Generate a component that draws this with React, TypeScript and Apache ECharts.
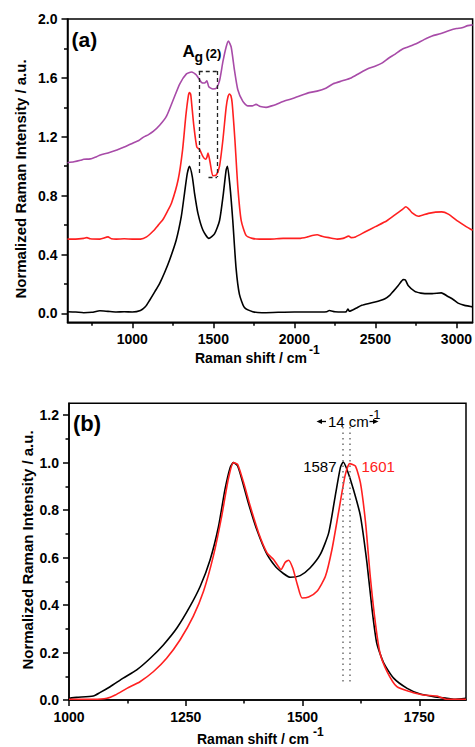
import React, { useEffect, useRef } from "react";
import * as echarts from "echarts";

// ---------- Panel (a) data ----------
const xA_black = [600,650,700,750,800,850,900,950,1000,1050,1080,1107,1140,1169,1200,1230,1271,1302,1322,1339,1353,1370,1384,1405,1436,1472,1507,1538,1562,1579,1587,1603,1620,1640,1661,1692,1743,1800,1900,2000,2100,2200,2215,2250,2300,2320,2330,2340,2380,2416,2460,2498,2530,2559,2590,2610,2641,2672,2685,2702,2743,2780,2805,2850,2907,2948,2980,3010,3050,3076,3100];
const yA_black = [0.012,0.01,0.005,0.008,0.018,0.014,0.01,0.012,0.01,0.02,0.045,0.09,0.15,0.205,0.28,0.363,0.499,0.657,0.816,0.95,1.0,0.93,0.816,0.68,0.565,0.51,0.54,0.63,0.816,0.975,1.0,0.86,0.63,0.31,0.13,0.04,0.012,0.005,0.008,0.01,0.01,0.012,0.02,0.012,0.01,0.012,0.03,0.015,0.035,0.055,0.068,0.078,0.088,0.1,0.125,0.15,0.19,0.23,0.228,0.19,0.15,0.138,0.135,0.135,0.14,0.115,0.095,0.07,0.055,0.05,0.045];

const xA_red = [600,650,700,720,740,800,850,870,900,950,1000,1050,1088,1129,1160,1190,1215,1242,1283,1310,1330,1346,1353,1360,1366,1380,1398,1415,1436,1452,1460,1467,1474,1481,1497,1518,1538,1559,1579,1590,1600,1608,1616,1633,1651,1672,1702,1740,1784,1850,1930,2030,2080,2110,2141,2170,2213,2264,2300,2336,2350,2377,2438,2500,2571,2633,2665,2688,2710,2725,2766,2827,2909,2950,3011,3060,3100];
const yA_red = [0.505,0.505,0.51,0.515,0.507,0.505,0.52,0.508,0.505,0.507,0.505,0.505,0.52,0.56,0.6,0.64,0.69,0.75,0.91,1.11,1.34,1.48,1.5,1.49,1.427,1.27,1.13,1.114,1.065,1.047,1.06,1.09,1.06,1.02,0.935,0.94,1.0,1.18,1.4,1.47,1.49,1.48,1.43,1.18,0.86,0.63,0.53,0.51,0.505,0.505,0.51,0.51,0.52,0.53,0.535,0.525,0.515,0.505,0.51,0.525,0.515,0.52,0.555,0.59,0.63,0.68,0.705,0.725,0.705,0.685,0.66,0.68,0.69,0.675,0.625,0.59,0.565];

const xA_purple = [600,640,680,700,740,780,803,850,905,950,1008,1040,1069,1100,1129,1170,1211,1252,1293,1334,1365,1395,1426,1446,1460,1472,1497,1518,1538,1559,1579,1593,1610,1630,1651,1682,1712,1740,1763,1790,1825,1860,1887,1930,1989,2040,2091,2140,2194,2240,2296,2350,2399,2450,2501,2540,2583,2620,2665,2700,2747,2800,2850,2900,2952,3000,3034,3070,3100];
const yA_purple = [1.024,1.03,1.04,1.047,1.05,1.065,1.077,1.09,1.11,1.13,1.16,1.175,1.198,1.215,1.236,1.28,1.34,1.45,1.56,1.627,1.64,1.62,1.57,1.565,1.58,1.54,1.525,1.53,1.58,1.71,1.81,1.85,1.81,1.655,1.52,1.44,1.41,1.41,1.42,1.405,1.4,1.41,1.42,1.44,1.46,1.48,1.5,1.51,1.53,1.56,1.58,1.6,1.63,1.66,1.68,1.7,1.735,1.76,1.795,1.81,1.83,1.86,1.885,1.9,1.92,1.935,1.94,1.955,1.96];

// ---------- Panel (b) data ----------
const xB_black = [1000,1016,1052,1066,1088,1116,1145,1174,1202,1231,1259,1281,1302,1320,1334,1345,1352,1361,1370,1384,1402,1424,1445,1474,1495,1516,1538,1556,1570,1581,1587,1595,1609,1624,1638,1649,1659,1674,1695,1724,1752,1781,1809,1824,1850];
const yB_black = [0.007,0.011,0.017,0.031,0.056,0.092,0.127,0.176,0.232,0.303,0.394,0.479,0.59,0.73,0.887,0.979,1.0,0.986,0.93,0.83,0.718,0.613,0.556,0.517,0.524,0.556,0.613,0.704,0.859,0.979,1.003,0.972,0.887,0.775,0.577,0.38,0.239,0.155,0.092,0.049,0.025,0.014,0.007,0.003,0.007];

const xB_red = [1000,1052,1081,1099,1124,1152,1181,1209,1238,1266,1288,1309,1327,1341,1352,1361,1374,1388,1406,1424,1438,1454,1463,1470,1479,1489,1499,1513,1531,1549,1563,1577,1591,1601,1613,1624,1635,1645,1656,1666,1681,1702,1731,1759,1788,1809,1850];
const yB_red = [0.003,0.003,0.007,0.021,0.049,0.077,0.12,0.176,0.254,0.352,0.458,0.606,0.775,0.93,1.0,0.993,0.915,0.817,0.704,0.62,0.592,0.55,0.58,0.589,0.556,0.486,0.43,0.434,0.458,0.521,0.634,0.789,0.944,0.996,0.986,0.915,0.746,0.521,0.324,0.197,0.12,0.056,0.035,0.021,0.017,0.003,0.003];

// ---------- Ticks ----------
const topMajorX = [1000, 1500, 2000, 2500, 3000];
const topMinorX = [750, 1250, 1750, 2250, 2750];
const topMajorY = [0, 0.4, 0.8, 1.2, 1.6, 2.0];
const topMinorY = [0.2, 0.6, 1.0, 1.4, 1.8];
const botMajorX = [1000, 1250, 1500, 1750];
const botMinorX = [1125, 1375, 1625];
const botMajorY = [0, 0.2, 0.4, 0.6, 0.8, 1.0, 1.2];
const botMinorY = [0.1, 0.3, 0.5, 0.7, 0.9, 1.1];

// annotations (data units)
const peakBlack = 1587;
const peakRed = 1601;
const agBox = { x0: 1410, x1: 1523, yTop: 1.647, yLeftBottom: 0.954, yRightBottom: 0.927, xBottomStart: 1470 };

const FONT = "'Liberation Sans', Arial, Helvetica, sans-serif";
const RED = "#ff2020";
const PURPLE = "#a84ba8";

const pairs = (xs: number[], ys: number[]) => xs.map((x, i) => [x, ys[i]]);

function mainX(grid: number, min: number, max: number, ticks: number[]) {
  return {
    type: "value", gridIndex: grid, min, max, position: "bottom",
    axisLine: { show: true, onZero: false, lineStyle: { color: "#000", width: 1.5 } },
    axisTick: { show: true, customValues: ticks, length: 6, lineStyle: { color: "#000", width: 1.5 } },
    axisLabel: {
      show: true, customValues: ticks, margin: 10, color: "#000", fontWeight: "bold", fontSize: 14, fontFamily: FONT,
      formatter: (v: number) => String(v),
    },
    splitLine: { show: false },
  };
}
function minorX(grid: number, min: number, max: number, ticks: number[]) {
  return {
    type: "value", gridIndex: grid, min, max, position: "bottom",
    axisLine: { show: false, onZero: false },
    axisTick: { show: true, customValues: ticks, length: 3.5, lineStyle: { color: "#000", width: 1.5 } },
    axisLabel: { show: false },
    splitLine: { show: false },
  };
}
function mainY(grid: number, min: number, max: number, ticks: number[]) {
  return {
    type: "value", gridIndex: grid, min, max, position: "left",
    axisLine: { show: true, onZero: false, lineStyle: { color: "#000", width: 1.5 } },
    axisTick: { show: true, customValues: ticks, length: 6, lineStyle: { color: "#000", width: 1.5 } },
    axisLabel: {
      show: true, customValues: ticks, margin: 10, color: "#000", fontWeight: "bold", fontSize: 14, fontFamily: FONT,
      formatter: (v: number) => v.toFixed(1),
    },
    splitLine: { show: false },
  };
}
function minorY(grid: number, min: number, max: number, ticks: number[]) {
  return {
    type: "value", gridIndex: grid, min, max, position: "left",
    axisLine: { show: false, onZero: false },
    axisTick: { show: true, customValues: ticks, length: 3.5, lineStyle: { color: "#000", width: 1.5 } },
    axisLabel: { show: false },
    splitLine: { show: false },
  };
}

function lineSeries(name: string, xi: number, yi: number, data: number[][], color: string, extra: any = {}) {
  return {
    name, type: "line", xAxisIndex: xi, yAxisIndex: yi, data,
    showSymbol: false, symbol: "none", smooth: 0.2,
    lineStyle: { color, width: 1.6 }, itemStyle: { color }, silent: true,
    ...extra,
  };
}

const dash = [4, 3];

export default function App() {
  const ref = useRef<HTMLDivElement>(null);
  useEffect(() => {
    if (!ref.current) return;
    const chart = echarts.init(ref.current, undefined, { renderer: "svg" });
    const t = (text: string, x: number, y: number, o: any = {}) => ({
      type: "text", x, y, rotation: o.rotation || 0, silent: true,
      style: {
        text, fill: o.fill || "#000", fontSize: o.size || 14, fontWeight: o.weight || "bold",
        fontFamily: FONT, align: o.align || "left", verticalAlign: "middle",
      },
    });
    const option: any = {
      animation: false,
      backgroundColor: "#fff",
      grid: [
        { left: 67.5, top: 19, width: 406.5, height: 303.3, show: true, borderColor: "#000", borderWidth: 1.5, backgroundColor: "transparent" },
        { left: 69, top: 403.3, width: 397, height: 296.7, show: true, borderColor: "#000", borderWidth: 1.5, backgroundColor: "transparent" },
      ],
      xAxis: [
        mainX(0, 600, 3100, topMajorX),
        minorX(0, 600, 3100, topMinorX),
        mainX(1, 1000, 1850, botMajorX),
        minorX(1, 1000, 1850, botMinorX),
      ],
      yAxis: [
        mainY(0, -0.06, 2.0, topMajorY),
        minorY(0, -0.06, 2.0, topMinorY),
        mainY(1, 0, 1.25, botMajorY),
        minorY(1, 0, 1.25, botMinorY),
      ],
      series: [
        lineSeries("a-black", 0, 0, pairs(xA_black, yA_black), "#000"),
        lineSeries("a-red", 0, 0, pairs(xA_red, yA_red), RED, {
          markLine: {
            silent: true, symbol: "none", label: { show: false },
            lineStyle: { color: "#222", width: 1.3, type: dash },
            data: [
              [{ coord: [agBox.x0, agBox.yTop] }, { coord: [agBox.x0, agBox.yLeftBottom] }],
              [{ coord: [agBox.x0, agBox.yTop] }, { coord: [agBox.x1, agBox.yTop] }],
              [{ coord: [agBox.x1, agBox.yTop] }, { coord: [agBox.x1, agBox.yRightBottom] }],
              [{ coord: [agBox.xBottomStart, agBox.yRightBottom] }, { coord: [agBox.x1, agBox.yRightBottom] }],
            ],
          },
        }),
        lineSeries("a-purple", 0, 0, pairs(xA_purple, yA_purple), PURPLE),
        lineSeries("b-black", 2, 2, pairs(xB_black, yB_black), "#000", {
          markLine: {
            silent: true, symbol: "none", label: { show: false },
            lineStyle: { color: "#777", width: 1.6, type: [1.5, 4] },
            data: [
              [{ coord: [peakBlack, 1.15] }, { coord: [peakBlack, 0.07] }],
              [{ coord: [peakRed, 1.15] }, { coord: [peakRed, 0.07] }],
            ],
          },
        }),
        lineSeries("b-red", 2, 2, pairs(xB_red, yB_red), RED),
      ],
      graphic: [
        t("(a)", 71.5, 39, { size: 21 }),
        t("(b)", 73, 423, { size: 22 }),
        t("Normalized Raman Intensity / a.u.", 20, 179, { size: 15, align: "center", rotation: Math.PI / 2 }),
        t("Normalized Raman Intensity / a.u.", 27, 550, { size: 15, align: "center", rotation: Math.PI / 2 }),
        t("Raman shift / cm", 195, 358, { size: 14 }),
        t("-1", 309, 350, { size: 12 }),
        t("Raman shift / cm", 197, 739, { size: 14 }),
        t("-1", 313, 731.5, { size: 12 }),
        t("A", 182.5, 51.5, { size: 17 }),
        t("g", 194.5, 57, { size: 14 }),
        t("(2)", 205.5, 53, { size: 13 }),
        t("14 cm", 328, 421.7, { size: 15, weight: "normal" }),
        t("-1", 369, 414, { size: 13, weight: "normal" }),
        { type: "polygon", silent: true, shape: { points: [[316.5, 421.5], [322, 419], [322, 424]] }, style: { fill: "#000" } },
        { type: "line", silent: true, shape: { x1: 322, y1: 421.5, x2: 326, y2: 421.5 }, style: { stroke: "#000", lineWidth: 1.3 } },
        { type: "line", silent: true, shape: { x1: 369.5, y1: 421.5, x2: 373, y2: 421.5 }, style: { stroke: "#000", lineWidth: 1.3 } },
        { type: "polygon", silent: true, shape: { points: [[378.5, 421.5], [373, 419], [373, 424]] }, style: { fill: "#000" } },
        t("1587", 336.5, 466.7, { size: 15, weight: "normal", align: "right" }),
        t("1601", 361.5, 466.7, { size: 15, weight: "normal", fill: RED }),
      ],
    };
    chart.setOption(option);
    return () => chart.dispose();
  }, []);
  return <div ref={ref} style={{ position: "fixed", left: 0, top: 0, width: 475, height: 747 }} />;
}
